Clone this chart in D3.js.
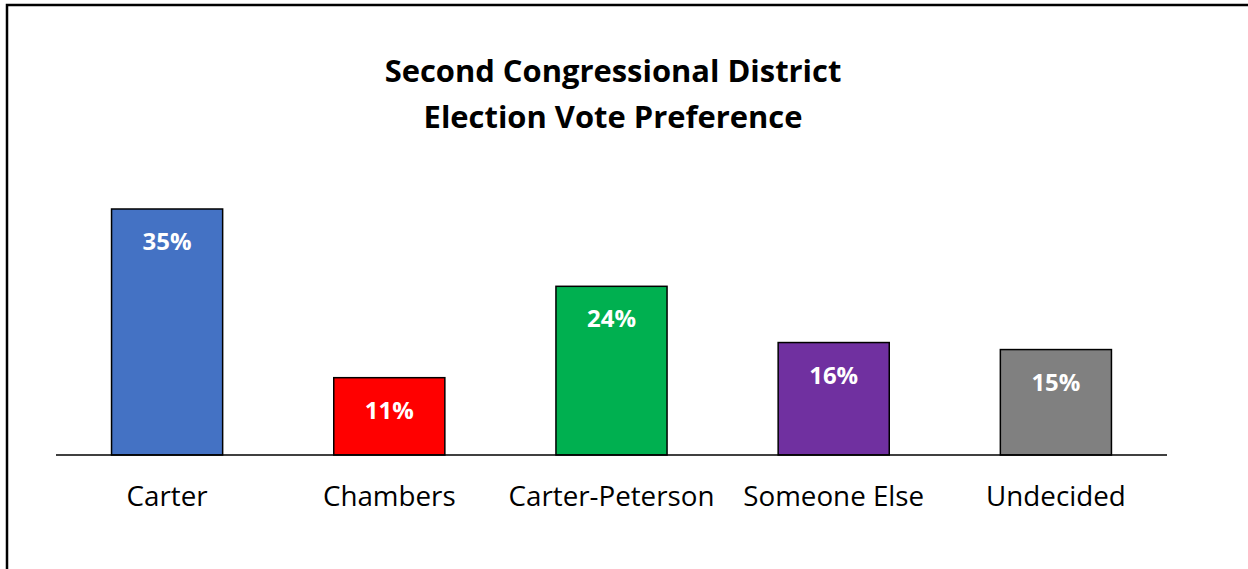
<!DOCTYPE html>
<html>
<head>
<meta charset="utf-8">
<script src="https://cdn.jsdelivr.net/npm/d3@7"></script>
<style>
  html, body { margin: 0; padding: 0; background: #fff; }
  svg { display: block; }
</style>
</head>
<body>
<svg id="chart" width="1248" height="569"></svg>
<script>
// Vote preference by candidate
const categories = ["Carter", "Chambers", "Carter-Peterson", "Someone Else", "Undecided"];
const shares = [35, 11, 24, 16, 15];
const barColors = ["#4472C4", "#FF0000", "#00B050", "#7030A0", "#808080"];
const titleLines = ["Second Congressional District", "Election Vote Preference"];

const width = 1248, height = 569;
const svg = d3.select("#chart");
const font = "'Open Sans', Lato, sans-serif";

// scale a text selection's font size so that a reference element spans the given width
function fitWidth(sel, refNode, target) {
  const w = refNode.getComputedTextLength();
  const size = parseFloat(sel.attr("font-size"));
  if (w > 0) sel.attr("font-size", size * target / w);
}

// frame around the chart area (extends past right and bottom edges)
svg.append("rect")
  .attr("x", 7).attr("y", 5)
  .attr("width", 1260).attr("height", 600)
  .attr("fill", "#fff")
  .attr("stroke", "#000")
  .attr("stroke-width", 2.5);

const plot = { left: 56, right: 1167, bottom: 455 };

const x = d3.scaleBand()
  .domain(categories)
  .range([plot.left, plot.right])
  .paddingInner(0.5)
  .paddingOuter(0.25);

const y = d3.scaleLinear()
  .domain([0, 35])
  .range([plot.bottom, 209]);

// title
const title = svg.append("text")
  .attr("x", 613).attr("y", 82)
  .attr("text-anchor", "middle")
  .attr("font-family", font)
  .attr("font-weight", "bold")
  .attr("font-size", 30)
  .attr("fill", "#000");
title.selectAll("tspan")
  .data(titleLines)
  .join("tspan")
  .attr("x", 613)
  .attr("dy", (d, i) => i === 0 ? 0 : 46)
  .text(d => d);
fitWidth(title, title.select("tspan").node(), 457);

// bars
svg.append("g")
  .selectAll("rect")
  .data(categories)
  .join("rect")
  .attr("x", d => x(d))
  .attr("y", (d, i) => y(shares[i]))
  .attr("width", x.bandwidth())
  .attr("height", (d, i) => y(0) - y(shares[i]))
  .attr("fill", (d, i) => barColors[i])
  .attr("stroke", "#000")
  .attr("stroke-width", 1.5);

// value labels inside bars
const values = svg.append("g")
  .attr("font-family", font)
  .attr("font-weight", "bold")
  .attr("font-size", 23)
  .attr("fill", "#fff");
values.selectAll("text")
  .data(categories)
  .join("text")
  .attr("x", d => x(d) + x.bandwidth() / 2)
  .attr("y", (d, i) => y(shares[i]) + 41)
  .attr("text-anchor", "middle")
  .text((d, i) => shares[i] + "%");
fitWidth(values, values.select("text").node(), 49);

// category axis
const axis = svg.append("g")
  .attr("transform", `translate(0,${plot.bottom})`)
  .call(d3.axisBottom(x).tickSize(0).tickPadding(0));
axis.select(".domain")
  .attr("d", `M${plot.left},0H${plot.right}`)
  .attr("stroke", "#000")
  .attr("stroke-width", 1.5);
axis.attr("font-family", font).attr("font-size", 24);
axis.selectAll("text")
  .attr("fill", "#000")
  .attr("y", 51)
  .attr("dy", 0);
fitWidth(axis, axis.selectAll("text").nodes()[2], 206);
</script>
</body>
</html>
